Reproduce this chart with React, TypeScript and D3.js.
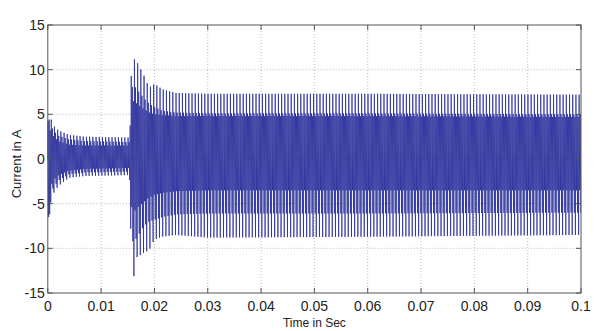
import React from "react";
import * as d3 from "d3";

// x ticks (s) and y ticks (A)
const xTicks = [0, 0.01, 0.02, 0.03, 0.04, 0.05, 0.06, 0.07, 0.08, 0.09, 0.1];
const xTickLabels = ["0", "0.01", "0.02", "0.03", "0.04", "0.05", "0.06", "0.07", "0.08", "0.09", "0.1"];
const yTicks = [-15, -10, -5, 0, 5, 10, 15];

// Envelope knots of the waveform peaks
const envT =      [0,    0.0002, 0.0006, 0.001, 0.002, 0.004, 0.007, 0.0153, 0.0156, 0.016, 0.0167, 0.018, 0.019, 0.02, 0.0215, 0.024, 0.03, 0.06, 0.1];
const upOuter =   [4.0,  5.0,    4.5,    3.8,   3.2,   2.7,   2.5,   2.4,    9.0,    11.3,  10.9,   9.4,   8.0,   8.4,  7.8,    7.4,   7.3,  7.3,  7.2];
const upMid =     [3.5,  4.5,    3.8,    3.2,   2.6,   2.2,   2.0,   1.9,    7.5,    8.4,   7.8,    6.8,   6.2,   5.8,  5.4,    5.2,   5.1,  5.1,  5.0];
const upInner =   [2.5,  3.5,    3.0,    2.6,   2.0,   1.6,   1.5,   1.5,    6.0,    6.5,   6.2,    5.6,   5.2,   5.0,  4.9,    4.8,   4.8,  4.8,  4.7];
const lowInner =  [-5.0, -7.0,   -3.0,   -2.4,  -1.8,  -1.3,  -1.1,  -1.0,   -5.0,   -6.0,  -5.5,   -4.8,  -4.3,  -4.0, -3.8,   -3.6,  -3.5, -3.5, -3.5];
const lowMid =    [-6.0, -7.5,   -4.0,   -3.2,  -2.4,  -1.7,  -1.5,  -1.4,   -7.0,   -9.5,  -8.8,   -7.5,  -7.0,  -6.8, -6.5,   -6.2,  -6.1, -6.1, -6.0];
const lowOuter =  [-7.5, -7.5,   -4.5,   -3.9,  -3.0,  -2.1,  -1.9,  -1.8,   -9.0,   -13.7, -11.0,  -10.5, -10.2, -9.0, -8.7,   -8.5,  -8.8, -8.7, -8.5];

// half period of the oscillation (s) and the order in which peak levels repeat
const halfPeriod = 0.0001;
const upPattern = [0, 1, 2]; // 0 outer, 1 mid, 2 inner
const lowPattern = [2, 1, 0];

const W = 600;
const H = 331;
const M = { left: 47.8, right: 581, top: 25, bottom: 293 };

function buildSignal(): [number, number][] {
  const env = (arr: number[]) => d3.scaleLinear<number>().domain(envT).range(arr).clamp(true);
  const ups = [env(upOuter), env(upMid), env(upInner)];
  const lows = [env(lowOuter), env(lowMid), env(lowInner)];
  const pts: [number, number][] = [[0, 0]];
  let k = 0;
  for (let t = halfPeriod / 2; t <= 0.1; t += halfPeriod) {
    const n = Math.floor(k / 2);
    const v = k % 2 === 0 ? ups[upPattern[n % upPattern.length]](t) : lows[lowPattern[n % lowPattern.length]](t);
    pts.push([t, v]);
    k++;
  }
  return pts;
}

export default function App() {
  const x = d3.scaleLinear().domain([0, 0.1]).range([M.left, M.right]);
  const y = d3.scaleLinear().domain([-15, 15]).range([M.bottom, M.top]);
  const data = buildSignal();
  const line = d3
    .line<[number, number]>()
    .x((d) => x(d[0]))
    .y((d) => y(d[1]));
  const font = "'Liberation Sans', Arial, sans-serif";
  const tl = 5;
  return (
    <svg width={W} height={H} style={{ position: "absolute", left: 0, top: 0, background: "#fff" }}>
      <rect x={0} y={0} width={W} height={H} fill="#fff" />
      {/* grid */}
      {xTicks.slice(1, -1).map((t) => (
        <line key={"gx" + t} x1={x(t)} x2={x(t)} y1={M.top} y2={M.bottom} stroke="#aaa" strokeWidth={0.8} strokeDasharray="1,2" />
      ))}
      {yTicks.slice(1, -1).map((t) => (
        <line key={"gy" + t} x1={M.left} x2={M.right} y1={y(t)} y2={y(t)} stroke="#aaa" strokeWidth={0.8} strokeDasharray="1,2" />
      ))}
      {/* signal */}
      <path d={line(data) || ""} fill="none" stroke="#252a98" strokeWidth={0.85} strokeOpacity={0.9} />
      {/* box */}
      <rect x={M.left} y={M.top} width={M.right - M.left} height={M.bottom - M.top} fill="none" stroke="#555" strokeWidth={1} />
      {/* ticks */}
      {xTicks.map((t) => (
        <g key={"tx" + t}>
          <line x1={x(t)} x2={x(t)} y1={M.bottom} y2={M.bottom - tl} stroke="#555" />
          <line x1={x(t)} x2={x(t)} y1={M.top} y2={M.top + tl} stroke="#555" />
        </g>
      ))}
      {yTicks.map((t) => (
        <g key={"ty" + t}>
          <line x1={M.left} x2={M.left + tl} y1={y(t)} y2={y(t)} stroke="#555" />
          <line x1={M.right} x2={M.right - tl} y1={y(t)} y2={y(t)} stroke="#555" />
        </g>
      ))}
      {/* tick labels */}
      {xTicks.map((t, i) => (
        <text key={"lx" + t} x={x(t)} y={311} textAnchor="middle" fontFamily={font} fontSize={14} fill="#222">
          {xTickLabels[i]}
        </text>
      ))}
      {yTicks.map((t) => (
        <text key={"ly" + t} x={M.left - 3} y={y(t) + 5} textAnchor="end" fontFamily={font} fontSize={14} fill="#222">
          {t}
        </text>
      ))}
      <text x={x(0.05)} y={327} textAnchor="middle" fontFamily={font} fontSize={12} fill="#222">
        Time in Sec
      </text>
      <text transform={`translate(21,${164}) rotate(-90)`} textAnchor="middle" fontFamily={font} fontSize={13} fill="#222">
        Current in A
      </text>
    </svg>
  );
}
